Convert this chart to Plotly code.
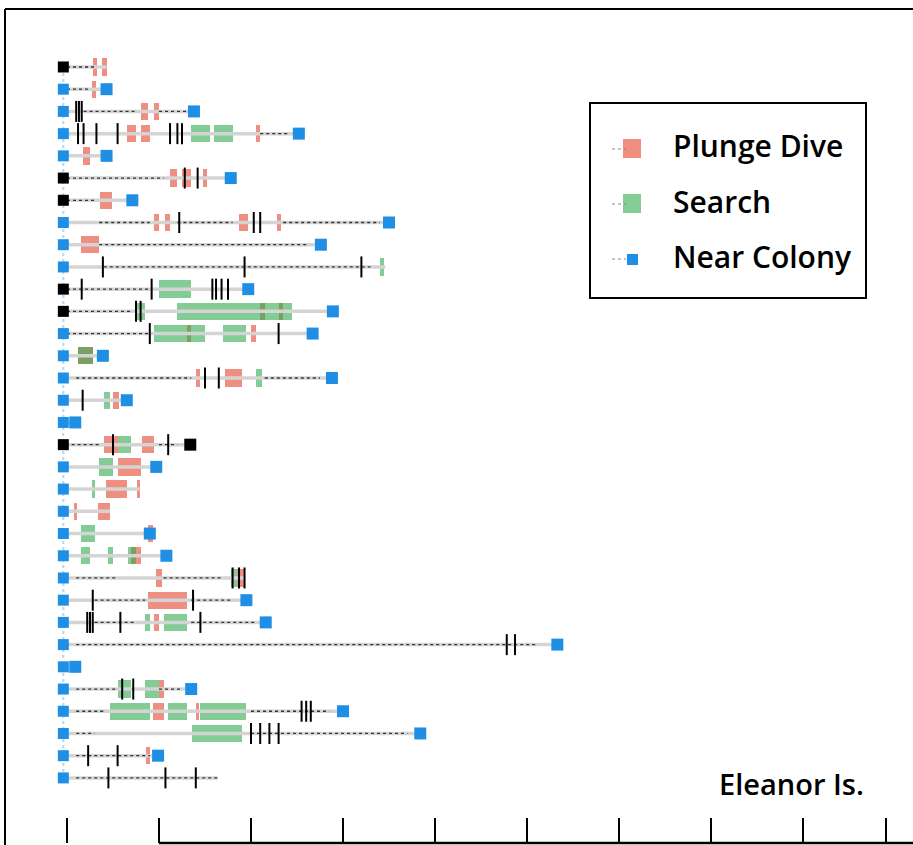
import plotly.graph_objects as go

# ---------------- data (hours since departure) ----------------
rows = list(range(1, 34))
trip_end = [0.43, 0.43, 1.38, 2.52, 0.43, 1.78, 0.71, 3.50, 2.76, 3.46, 1.97,
            2.89, 2.67, 0.39, 2.88, 0.65, 0.09, 1.34, 0.97, 0.79, 0.47, 0.90,
            1.08, 1.93, 1.95, 2.16, 5.33, 0.09, 1.35, 3.00, 3.84, 0.99, 1.64]
start_type = ["black" if r in (1, 6, 7, 11, 12, 18) else "blue" for r in rows]
end_type = ["none" if r in (1, 10, 20, 21, 24, 33) else ("black" if r == 18 else "blue")
            for r in rows]

plunge = [(1, 0.28, 0.33), (1, 0.38, 0.43), (2, 0.27, 0.32), (3, 0.80, 0.88), (3, 0.95, 1.0),
          (4, 0.65, 0.75), (4, 0.80, 0.90), (4, 2.05, 2.10), (5, 0.17, 0.25),
          (6, 1.12, 1.20), (6, 1.25, 1.35), (6, 1.48, 1.52), (7, 0.36, 0.49),
          (8, 0.95, 1.0), (8, 1.07, 1.12), (8, 1.87, 1.97), (8, 2.28, 2.33), (9, 0.15, 0.35),
          (12, 2.10, 2.15), (12, 2.30, 2.35), (13, 1.30, 1.35), (13, 2.0, 2.05),
          (14, 0.12, 0.28), (15, 1.40, 1.45), (15, 1.72, 1.90), (16, 0.50, 0.56),
          (18, 0.40, 0.55), (18, 0.82, 0.95), (19, 0.55, 0.80), (20, 0.42, 0.65),
          (20, 0.76, 0.79), (21, 0.08, 0.11), (21, 0.34, 0.47), (22, 0.88, 0.93),
          (23, 0.70, 0.80), (24, 0.97, 1.03), (24, 1.85, 1.92), (25, 0.88, 1.30),
          (26, 0.95, 1.0), (29, 1.0, 1.05), (30, 0.93, 1.05), (30, 1.40, 1.43), (32, 0.86, 0.90)]

search = [(4, 1.35, 1.55), (4, 1.60, 1.80), (10, 3.40, 3.45), (11, 1.0, 1.35),
          (12, 0.75, 0.85), (12, 1.20, 2.45), (13, 0.95, 1.50), (13, 1.70, 1.95),
          (14, 0.12, 0.28), (15, 2.05, 2.12), (16, 0.40, 0.47), (18, 0.55, 0.70),
          (19, 0.35, 0.50), (20, 0.27, 0.30), (22, 0.15, 0.30), (23, 0.15, 0.25),
          (23, 0.45, 0.50), (23, 0.66, 0.75), (24, 1.78, 1.85), (26, 0.85, 0.90),
          (26, 1.05, 1.30), (29, 0.55, 0.70), (29, 0.85, 1.0), (30, 0.47, 0.90),
          (30, 1.10, 1.30), (30, 1.45, 1.95), (31, 1.36, 1.90)]

dive_ticks = [(3, 0.10), (3, 0.13), (3, 0.16), (4, 0.12), (4, 0.18), (4, 0.32), (4, 0.55),
              (4, 1.12), (4, 1.20), (4, 1.25), (6, 1.28), (6, 1.42), (8, 1.22), (8, 2.03),
              (8, 2.10), (10, 0.39), (10, 1.93), (10, 3.20), (11, 0.16), (11, 0.92),
              (11, 1.58), (11, 1.62), (11, 1.68), (11, 1.75), (12, 0.75), (12, 0.80),
              (13, 0.90), (13, 2.30), (15, 1.50), (15, 1.65), (16, 0.17), (18, 0.50),
              (18, 1.10), (24, 1.80), (24, 1.87), (24, 1.93), (25, 0.28), (25, 1.37),
              (26, 0.22), (26, 0.25), (26, 0.28), (26, 0.58), (26, 1.45), (27, 4.78),
              (27, 4.87), (29, 0.60), (29, 0.72), (30, 2.55), (30, 2.60), (30, 2.65),
              (31, 2.0), (31, 2.1), (31, 2.2), (31, 2.3), (32, 0.23), (32, 0.55),
              (33, 0.45), (33, 1.07), (33, 1.40)]

travel = [(1, 0.0, 0.30), (2, 0.0, 0.25), (3, 0.18, 0.75), (3, 1.0, 1.30), (4, 2.10, 2.40),
          (6, 0.0, 1.05), (7, 0.0, 0.30), (8, 0.35, 0.90), (8, 1.20, 1.80), (8, 2.35, 3.40),
          (9, 0.35, 2.60), (10, 0.40, 3.30), (11, 0.0, 0.90), (12, 0.0, 0.70),
          (13, 0.0, 0.90), (15, 0.10, 1.35), (15, 2.15, 2.75), (18, 0.05, 0.35),
          (18, 1.0, 1.20), (24, 0.10, 0.55), (24, 1.05, 1.70), (25, 0.30, 0.85),
          (25, 1.35, 1.80), (26, 0.30, 0.75), (26, 1.35, 2.05), (27, 0.10, 5.10),
          (29, 0.10, 0.55), (29, 1.0, 1.25), (30, 0.10, 0.40), (30, 2.0, 2.85),
          (31, 0.10, 0.30), (31, 2.0, 3.70), (32, 0.10, 0.90), (33, 0.10, 1.64)]

axis_ticks = [0, 1, 2, 3, 4, 5, 6, 7, 8, 8.9]
legend_labels = ["Plunge Dive", "Search", "Near Colony"]
site_label = "Eleanor Is."
start_x = -0.04

BLUE = "#1f8fe6"
RED = "rgba(230,85,65,0.66)"
GREEN = "rgba(50,170,80,0.6)"

fig = go.Figure()

# grey trip lines
gx, gy = [], []
for r, e in zip(rows, trip_end):
    gx += [start_x, e, None]
    gy += [r, r, None]
fig.add_trace(go.Scatter(x=gx, y=gy, mode="lines", line=dict(color="#d4d4d4", width=3.5),
                         showlegend=False, hoverinfo="skip"))

# connecting vertical line through starts
fig.add_trace(go.Scatter(x=[start_x, start_x], y=[rows[0], rows[-1]], mode="lines",
                         line=dict(color="rgba(31,143,230,0.35)", width=2, dash="dot"),
                         showlegend=False, hoverinfo="skip"))

# dotted travel segments
tx, ty = [], []
for r, a, b in travel:
    tx += [a, b, None]
    ty += [r, r, None]
fig.add_trace(go.Scatter(x=tx, y=ty, mode="lines", line=dict(color="#333", width=1.3, dash="dot"),
                         showlegend=False, hoverinfo="skip"))

# behaviour bars
fig.add_trace(go.Bar(orientation="h", y=[p[0] for p in plunge], base=[p[1] for p in plunge],
                     x=[p[2] - p[1] for p in plunge], width=0.78,
                     marker=dict(color=RED, line=dict(width=0)), showlegend=False))
fig.add_trace(go.Bar(orientation="h", y=[s[0] for s in search], base=[s[1] for s in search],
                     x=[s[2] - s[1] for s in search], width=0.78,
                     marker=dict(color=GREEN, line=dict(width=0)), showlegend=False))

# dive ticks
fig.add_trace(go.Scatter(x=[d[1] for d in dive_ticks], y=[d[0] for d in dive_ticks], mode="markers",
                         marker=dict(symbol="line-ns", size=15, line=dict(color="black", width=2)),
                         showlegend=False, hoverinfo="skip"))

# start / end markers
sc = [BLUE if t == "blue" else "black" for t in start_type]
fig.add_trace(go.Scatter(x=[start_x] * len(rows), y=rows, mode="markers",
                         marker=dict(symbol="square", size=11, color=sc), showlegend=False))
ex = [e for e, t in zip(trip_end, end_type) if t != "none"]
ey = [r for r, t in zip(rows, end_type) if t != "none"]
ec = [BLUE if t == "blue" else "black" for t in end_type if t != "none"]
fig.add_trace(go.Scatter(x=ex, y=ey, mode="markers",
                         marker=dict(symbol="square", size=12, color=ec), showlegend=False))

# ---------------- geometry helpers (pixel -> paper) ----------------
PL, PR, PT, PB = 5, 913, 9, 843
def px(x):
    return (x - PL) / (PR - PL)
def py(y):
    return (PB - y) / (PB - PT)

# frame
fig.add_shape(type="line", xref="paper", yref="paper", x0=0, x1=0, y0=-0.01, y1=1,
              line=dict(color="black", width=2))
fig.add_shape(type="line", xref="paper", yref="paper", x0=0, x1=1, y0=1, y1=1,
              line=dict(color="black", width=2))
fig.add_shape(type="line", xref="x", yref="paper", x0=1, x1=9.3, y0=0, y1=0,
              line=dict(color="black", width=2.5))

# legend box (drawn manually to match layout)
fig.add_shape(type="rect", xref="paper", yref="paper", x0=px(590), x1=px(866), y0=py(298), y1=py(103),
              line=dict(color="black", width=2), fillcolor="white", layer="above")
leg_y = [146, 201, 256]
leg_col = [RED, GREEN, BLUE]
for lab, yy, col in zip(legend_labels, leg_y, leg_col):
    fig.add_annotation(text=lab, x=px(671), y=py(yy), xref="paper", yref="paper", xanchor="left",
                       yanchor="middle", showarrow=False,
                       font=dict(family="Open Sans", size=30, color="black", weight=600))
    fig.add_shape(type="line", xref="paper", yref="paper", x0=px(612), x1=px(626), y0=py(yy + 3), y1=py(yy + 3),
                  line=dict(color="#888", width=1, dash="dot"), layer="above")
    if col == BLUE:
        fig.add_shape(type="rect", xref="paper", yref="paper", x0=px(627), x1=px(638), y0=py(yy + 9),
                      y1=py(yy - 2), fillcolor=BLUE, line=dict(width=0), layer="above")
    else:
        fig.add_shape(type="rect", xref="paper", yref="paper", x0=px(623), x1=px(641), y0=py(yy + 12),
                      y1=py(yy - 7), fillcolor=col, line=dict(width=0), layer="above")

fig.add_annotation(text=site_label, x=px(791), y=py(783), xref="paper", yref="paper",
                   xanchor="center", yanchor="middle", showarrow=False,
                   font=dict(family="Open Sans", size=29, color="black", weight=600))

fig.update_layout(
    width=913, height=845,
    margin=dict(l=PL, r=913 - PR, t=PT, b=845 - PB),
    paper_bgcolor="white", plot_bgcolor="white",
    barmode="overlay", bargap=0,
    showlegend=False,
    xaxis=dict(range=[-0.674, 9.196], showgrid=False, zeroline=False, showline=False,
               tickvals=axis_ticks, ticks="inside", ticklen=25, tickwidth=2, tickcolor="black",
               showticklabels=False),
    yaxis=dict(range=[35.93, -1.61], showgrid=False, zeroline=False, showline=False,
               showticklabels=False, ticks=""),
)

fig.write_html("out.html", config={"displayModeBar": False},
               post_script="document.body.style.margin='0px';")
